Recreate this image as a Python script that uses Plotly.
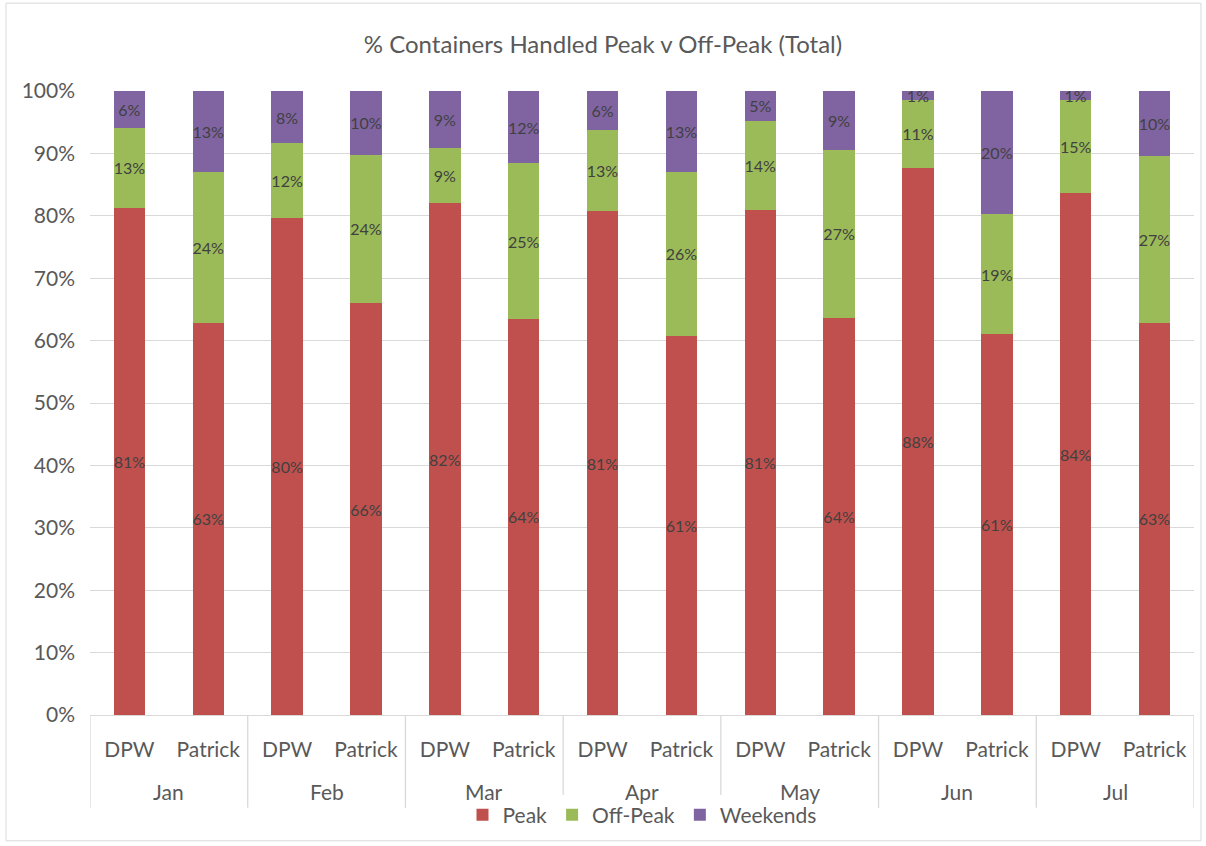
import plotly.graph_objects as go

months = ["Jan", "Feb", "Mar", "Apr", "May", "Jun", "Jul"]
companies = ["DPW", "Patrick"]
bar_ids = [f"{m} {c}" for m in months for c in companies]
bar_labels = [c for m in months for c in companies]

peak = [0.813, 0.629, 0.796, 0.660, 0.820, 0.635, 0.807, 0.608, 0.810, 0.637, 0.877, 0.610, 0.836, 0.629]
off_peak = [0.128, 0.241, 0.120, 0.238, 0.089, 0.249, 0.130, 0.263, 0.142, 0.269, 0.109, 0.193, 0.150, 0.267]
weekends = [0.059, 0.130, 0.084, 0.102, 0.091, 0.116, 0.063, 0.129, 0.048, 0.094, 0.014, 0.197, 0.014, 0.104]

series = [("Peak", peak, "#C0504D"), ("Off-Peak", off_peak, "#9BBB59"), ("Weekends", weekends, "#8064A2")]

FONT = "Lato, 'Liberation Sans', sans-serif"
GREY = "#595959"
LINE = "#D9D9D9"
W, H = 1206, 846
L, R, T, B = 90, 12, 91, 130
PH = H - T - B

fig = go.Figure()
for name, vals, col in series:
    fig.add_trace(go.Bar(
        x=bar_ids, y=vals, name=name,
        marker=dict(color=col, line=dict(width=0)),
        texttemplate="%{y:.0%}", textposition="inside", insidetextanchor="middle",
        textangle=0, textfont=dict(color="#404040", size=16, family=FONT),
        constraintext="none",
    ))

shapes = [dict(type="rect", xref="paper", yref="paper", x0=-84 / (W - L - R), x1=1 + 7 / (W - L - R),
               y0=-(B - 4) / PH, y1=1 + (T - 3) / PH, line=dict(color=LINE, width=1))]
annotations = []
for i, m in enumerate(months):
    annotations.append(dict(text=m, x=2 * i + 0.5, xref="x", y=-77 / PH, yref="paper",
                            yanchor="middle", xanchor="center", showarrow=False,
                            font=dict(size=21, color=GREY, family=FONT)))
for k in range(len(months) + 1):
    xb = 2 * k - 0.5
    shapes.append(dict(type="line", xref="x", yref="paper", x0=xb, x1=xb, y0=0, y1=-93 / PH,
                       line=dict(color=LINE, width=1.3)))

fig.update_layout(
    barmode="stack", bargap=0.6,
    width=W, height=H,
    paper_bgcolor="white", plot_bgcolor="white",
    margin=dict(l=L, r=R, t=T, b=B),
    font=dict(family=FONT, color=GREY, size=21),
    title=dict(text="% Containers Handled Peak v Off-Peak (Total)", x=0.5, xanchor="center",
               y=1 - 45 / H, yanchor="middle", font=dict(size=24, color=GREY)),
    uniformtext=dict(minsize=16, mode="show"),
    legend=dict(orientation="h", x=0.5, xanchor="center", y=-99 / PH, yanchor="middle",
                font=dict(size=21, color=GREY), traceorder="normal", itemwidth=30),
    yaxis=dict(range=[0, 1], dtick=0.1, tickformat=".0%", gridcolor=LINE, gridwidth=1.3,
               zeroline=False, showline=False, ticks="", ticklabelstandoff=14,
               tickfont=dict(size=21, color=GREY)),
    xaxis=dict(type="category", tickvals=bar_ids, ticktext=bar_labels, range=[-0.5, 13.5],
               showline=True, linecolor=LINE, linewidth=1.3, ticks="", ticklabelstandoff=16,
               tickfont=dict(size=21, color=GREY)),
    shapes=shapes,
    annotations=annotations,
)
fig.write_html("out.html", config={"displayModeBar": False},
               post_script="document.body.style.margin='0';")
